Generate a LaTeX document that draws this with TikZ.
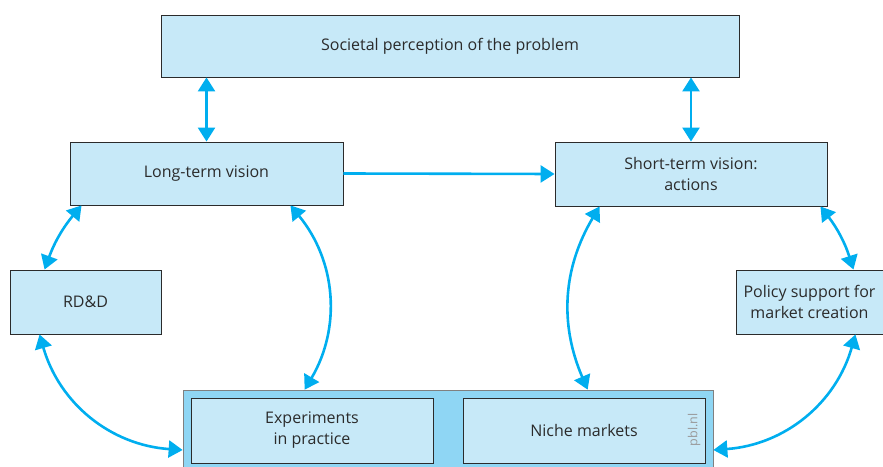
\documentclass[tikz,border=0pt]{standalone}
\usepackage{fontspec}
\setmainfont{Open Sans}
\usetikzlibrary{arrows.meta}
\definecolor{boxfill}{HTML}{C7E9F8}
\definecolor{fieldfill}{HTML}{8FD6F4}
\definecolor{link}{HTML}{00AEEF}
\definecolor{ink}{HTML}{2B2B2B}
\begin{document}
\begin{tikzpicture}[x=1pt,y=1pt,
  blok/.style={draw=ink, line width=0.9pt, fill=boxfill, text=ink, align=center, inner sep=0pt, font=\fontsize{16}{21}\selectfont},
  pijl/.style={link, line width=2.6pt, {Triangle[length=14pt,width=17pt]}-{Triangle[length=14pt,width=17pt]}},
  enkel/.style={link, line width=2.6pt, -{Triangle[length=14pt,width=17pt]}}]
\useasboundingbox (0,0) rectangle (883,466);
\node[blok, minimum width=578pt, minimum height=62pt] (top) at (450,420) {Societal perception of the problem};
\node[blok, minimum width=273pt, minimum height=63pt] (long) at (206.5,292.5) {Long-term vision};
\node[blok, minimum width=272pt, minimum height=64pt] (short) at (691,292) {Short-term vision:\\actions};
\node[blok, minimum width=151pt, minimum height=64pt] (rdd) at (85.5,164) {RD\&D};
\node[blok, minimum width=147pt, minimum height=64pt] (policy) at (809.5,164) {Policy support for\\market creation};
\node[draw=gray, line width=0.7pt, fill=fieldfill, minimum width=530pt, minimum height=86pt] (field) at (448,33) {};
\node[blok, minimum width=242pt, minimum height=65pt] (exp) at (312,35.5) {Experiments\\in practice};
\node[blok, minimum width=242pt, minimum height=65pt] (niche) at (584,35.5) {Niche markets};
\node[rotate=90, text=gray!80, font=\fontsize{12.5}{14}\selectfont] (pbl) at (694,36) {pbl.nl};
\draw[pijl] (long.north |- top.south) -- (long.north);
\draw[pijl] (short.north |- top.south) -- (short.north);
\draw[enkel] (long.east) -- (short.west);
\draw[pijl] ([xshift=12pt]long.south west) to[bend right=10] ([xshift=35pt]rdd.north west);
\draw[pijl] ([xshift=-7pt]short.south east) to[bend left=10] ([xshift=-30pt]policy.north east);
\draw[pijl] ([xshift=-53pt]long.south east) to[bend left=35] ([xshift=122pt]field.north west);
\draw[pijl] ([xshift=45pt]short.south west) to[bend right=27] ([xshift=405pt]field.north west);
\draw[pijl] ([xshift=30pt]rdd.south west) to[bend right=35] ([yshift=-17pt]field.west);
\draw[pijl] ([xshift=-28pt]policy.south east) to[bend left=35] ([yshift=-17pt]field.east);
\end{tikzpicture}
\end{document}
